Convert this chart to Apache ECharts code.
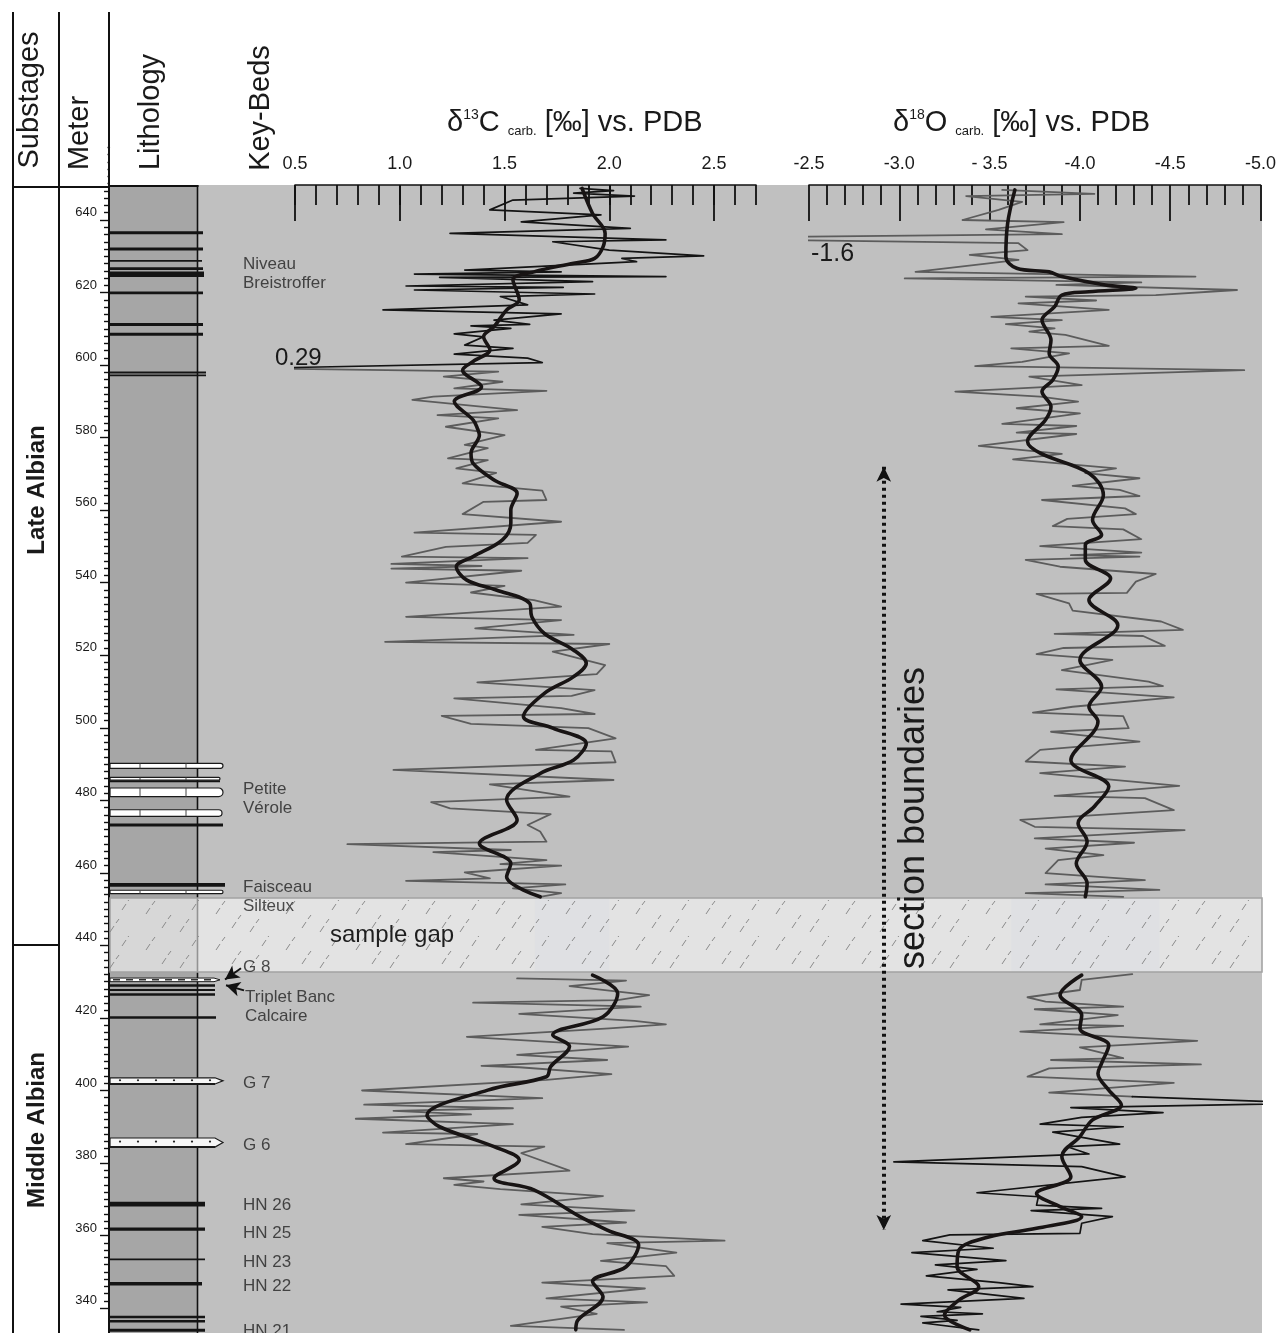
<!DOCTYPE html>
<html>
<head>
<meta charset="utf-8">
<script src="https://cdn.jsdelivr.net/npm/echarts@6.0.0/dist/echarts.min.js"></script>
<style>
html,body{margin:0;padding:0;background:#ffffff;}
#chart{width:1279px;height:1333px;}
</style>
</head>
<body>
<div id="chart"></div>
<script>
// ================= DATA =================
// meter (depth-axis) ticks
const meterMin = 340, meterMax = 660, meterStep = 20;
// tick labels of the two isotope axes
const c13TickLabels = ['0.5', '1.0', '1.5', '2.0', '2.5'];
const o18TickLabels = ['-2.5', '-3.0', '- 3.5', '-4.0', '-4.5', '-5.0'];

// delta13C raw values [value, meter] - upper (black) part
const c13RawUpper = [[1.86,648.7],[2.02,648.1],[1.83,647.4],[2.12,646.6],[1.54,645.5],[1.43,642.8],[1.96,641.4],[1.58,639.5],[2.10,637.7],[1.24,636.3],[2.27,634.5],[1.73,634.0],[2.00,631.7],[2.45,630.1],[2.06,629.4],[2.13,628.5],[1.31,626.2],[1.77,625.7],[1.07,625.1],[2.27,624.4],[1.19,624.2],[1.92,623.0],[1.03,621.8],[1.78,621.4],[1.07,620.7],[1.93,619.6],[1.48,618.9],[1.61,616.6],[0.92,615.2],[1.77,614.1],[1.45,612.4],[1.62,611.2],[1.34,610.8],[1.53,610.1],[1.26,608.6],[1.40,607.8],[1.31,605.5],[1.54,604.6],[1.26,603.0],[1.61,601.9],[1.68,600.7],[0.29,599.1]];
// delta13C raw values - middle (grey) part, down to the sample gap
const c13RawMid = [[0.29,599.1],[1.47,598.2],[1.21,596.8],[1.49,595.4],[1.26,593.6],[1.70,592.9],[1.16,591.3],[1.06,590.4],[1.40,588.5],[1.56,587.6],[1.18,586.2],[1.47,585.3],[1.22,583.0],[1.50,580.7],[1.31,578.0],[1.42,577.1],[1.23,574.3],[1.42,573.8],[1.27,571.5],[1.46,570.3],[1.30,567.4],[1.68,565.4],[1.70,562.8],[1.40,562.3],[1.30,558.9],[1.77,556.8],[1.07,553.8],[1.65,553.2],[1.61,551.0],[1.22,549.9],[1.01,547.2],[1.61,546.8],[0.96,545.2],[1.39,544.6],[0.96,543.9],[1.58,543.3],[1.03,540.0],[1.50,539.1],[1.34,537.3],[1.64,535.2],[1.77,533.4],[1.03,530.6],[1.77,529.7],[1.36,527.4],[1.83,525.6],[0.93,523.7],[2.00,523.1],[1.73,521.0],[1.98,517.3],[1.94,514.8],[1.37,512.5],[1.93,510.4],[1.82,508.8],[1.26,508.1],[1.77,505.4],[1.93,503.8],[1.20,503.3],[1.34,501.1],[1.90,499.9],[2.03,497.1],[1.65,493.9],[2.01,493.5],[2.03,490.5],[0.97,488.4],[2.02,485.6],[1.43,484.4],[1.81,481.0],[1.15,479.5],[1.24,477.8],[1.72,476.2],[1.61,473.2],[1.67,471.4],[1.70,468.6],[0.75,467.9],[1.53,466.3],[1.16,465.7],[1.70,463.5],[1.48,462.4],[1.77,462.0],[1.31,460.1],[1.43,458.5],[1.03,457.8],[1.79,456.8],[1.54,455.7],[1.77,454.4],[1.67,453.4]];
// delta13C raw values - below the sample gap
const c13RawLower = [[1.56,430.9],[2.08,430.3],[1.81,428.8],[2.19,426.3],[2.04,424.9],[1.35,424.2],[2.15,423.1],[1.57,421.1],[2.12,419.2],[2.27,418.2],[2.00,417.1],[1.32,414.8],[2.09,412.1],[1.56,409.8],[1.99,408.4],[1.39,406.8],[1.57,406.4],[2.01,404.5],[1.70,402.9],[0.82,400.0],[1.68,397.9],[0.83,396.1],[1.54,395.1],[0.97,394.4],[1.34,393.4],[0.79,392.2],[1.54,390.7],[0.92,388.4],[1.37,388.0],[1.03,385.2],[1.69,384.5],[1.58,382.7],[1.81,377.9],[1.21,375.8],[1.40,374.9],[1.26,374.0],[1.48,372.8],[1.97,370.9],[1.58,368.6],[2.12,366.9],[1.57,365.7],[2.08,363.6],[1.68,362.4],[1.92,360.4],[2.55,358.6],[1.99,357.9],[2.32,355.3],[1.96,353.0],[2.27,351.6],[2.31,348.9],[1.68,347.0],[2.17,345.4],[1.70,342.7],[2.18,341.6],[1.77,340.4],[1.94,338.4],[1.53,335.1],[2.07,334.0]];
// delta13C smoothed curve
const c13SmoothUpper = [[1.87,648.7],[1.92,641.8],[1.98,636.3],[1.97,632.6],[1.93,629.4],[1.83,628.1],[1.64,625.7],[1.54,623.5],[1.57,618.0],[1.51,615.2],[1.45,610.6],[1.40,607.8],[1.43,604.2],[1.35,601.0],[1.30,598.6],[1.39,594.0],[1.26,590.0],[1.35,584.9],[1.37,582.6],[1.38,580.7],[1.34,575.7],[1.35,572.9],[1.45,568.3],[1.56,564.6],[1.53,560.0],[1.53,556.4],[1.49,551.8],[1.35,547.2],[1.27,544.4],[1.32,540.7],[1.46,538.0],[1.62,534.3],[1.63,530.6],[1.69,526.0],[1.83,521.4],[1.89,517.8],[1.83,514.1],[1.69,509.5],[1.59,503.1],[1.73,499.9],[1.89,495.7],[1.83,491.1],[1.67,487.4],[1.51,480.1],[1.56,474.6],[1.38,468.1],[1.53,462.6],[1.51,458.9],[1.67,453.4]];
const c13SmoothLower = [[1.92,431.8],[2.04,426.8],[1.97,420.3],[1.73,415.3],[1.81,412.1],[1.72,406.6],[1.70,403.8],[1.42,400.1],[1.13,393.2],[1.19,390.0],[1.45,384.5],[1.57,380.8],[1.45,375.8],[1.64,372.6],[1.86,365.2],[1.99,361.5],[2.14,357.4],[2.08,351.4],[1.92,347.3],[1.97,343.1],[1.85,336.7],[1.84,334.0]];

// delta18O raw values - upper part (grey)
const o18RawUpper = [[-3.57,648.3],[-4.08,647.2],[-3.37,646.6],[-3.68,645.0],[-3.55,642.8],[-3.35,640.0],[-3.91,639.4],[-3.48,637.4],[-3.90,636.1],[-1.6,635.0],[-3.66,633.6],[-3.71,631.7],[-3.39,630.4],[-3.66,629.0],[-3.09,625.7],[-4.64,624.4],[-3.03,623.9],[-4.34,622.8],[-3.87,622.1],[-4.87,620.7],[-4.42,619.3],[-3.70,618.9],[-4.09,617.8],[-3.66,617.0],[-4.16,615.2],[-3.51,613.3],[-3.90,612.4],[-3.59,611.3],[-3.86,610.1],[-3.72,609.2],[-3.92,608.3],[-4.16,605.3],[-3.62,604.6],[-3.94,603.2],[-3.68,600.9],[-3.42,599.7],[-4.91,598.6],[-3.72,596.8],[-4.01,594.5],[-3.31,592.7],[-3.78,591.3],[-3.99,589.9],[-3.65,588.1],[-4.00,586.7],[-3.57,583.8],[-3.98,583.2],[-3.65,581.4],[-3.98,581.0],[-3.44,577.7],[-3.90,575.5],[-3.63,574.0],[-4.20,571.5],[-4.03,570.2],[-4.33,568.8],[-3.96,566.7],[-4.22,565.6],[-4.33,563.9],[-3.79,562.8],[-4.25,560.5],[-4.31,558.9],[-3.93,557.6],[-3.85,555.6],[-4.24,554.7],[-4.34,552.0],[-3.78,550.1],[-4.34,548.3],[-3.95,547.6],[-4.33,547.2],[-3.70,546.3],[-3.89,544.4],[-4.42,542.4],[-4.31,540.3],[-4.26,537.2],[-3.76,536.9],[-3.94,534.3],[-3.96,532.3],[-4.45,529.3],[-4.57,527.0],[-3.86,525.9],[-4.35,525.3],[-4.47,522.6],[-3.91,522.0],[-3.76,520.3],[-4.18,518.7],[-3.90,515.9],[-4.38,512.7],[-4.46,511.5],[-3.87,510.6],[-4.52,508.4],[-3.96,505.8],[-3.74,504.2],[-4.24,503.2],[-4.27,499.9],[-3.84,498.9],[-4.33,496.2],[-3.78,493.9],[-3.70,490.7],[-4.25,489.3],[-3.78,487.5],[-4.55,484.0],[-3.86,481.2],[-4.36,480.6],[-4.52,477.3],[-3.67,474.6],[-3.75,472.7],[-4.58,471.8],[-3.75,469.5],[-4.30,468.3],[-3.81,466.7],[-4.13,464.9],[-3.88,463.5],[-3.81,459.9],[-4.36,458.0],[-3.81,456.8],[-4.44,455.3],[-3.70,454.4],[-4.24,453.4]];
// delta18O raw values - below the gap (grey part)
const o18RawLowerGrey = [[-4.29,432.1],[-4.01,430.5],[-4.00,427.7],[-3.71,425.7],[-3.81,424.5],[-4.24,423.1],[-3.75,422.4],[-4.21,420.8],[-3.78,418.2],[-4.24,417.8],[-3.67,416.2],[-4.65,413.7],[-4.00,411.9],[-4.24,408.9],[-3.84,408.4],[-4.67,407.2],[-3.83,406.1],[-3.71,403.8],[-4.52,402.1],[-3.83,399.4],[-4.29,398.3]];
// delta18O raw values - lowest (black) part
const o18RawLowerBlack = [[-4.29,398.3],[-5.3,396.5],[-3.95,395.3],[-4.46,393.9],[-4.01,392.6],[-3.78,390.7],[-4.24,390.0],[-3.85,388.5],[-4.22,385.2],[-3.93,384.5],[-4.05,382.5],[-2.97,380.3],[-4.01,379.0],[-4.25,376.2],[-3.43,371.8],[-3.77,370.7],[-3.76,368.4],[-4.12,367.5],[-3.73,366.9],[-4.18,365.2],[-4.01,363.4],[-4.00,360.6],[-3.28,360.2],[-3.13,358.6],[-3.52,356.5],[-3.07,355.3],[-3.59,353.1],[-3.20,351.9],[-3.43,350.7],[-3.15,348.9],[-3.55,347.0],[-3.74,345.9],[-3.27,345.0],[-3.69,342.7],[-3.01,341.1],[-3.34,340.2],[-3.21,339.0],[-3.46,338.4],[-3.12,337.7],[-3.32,336.6],[-3.13,335.9],[-3.44,334.0]];
// delta18O smoothed curve
const o18SmoothUpper = [[-3.64,648.3],[-3.60,639.1],[-3.59,629.9],[-3.65,626.7],[-3.83,625.7],[-3.90,624.4],[-4.14,622.1],[-4.31,621.2],[-4.05,620.2],[-3.90,619.3],[-3.86,616.1],[-3.79,612.4],[-3.84,606.9],[-3.83,603.2],[-3.88,599.6],[-3.85,595.9],[-3.79,592.7],[-3.84,588.5],[-3.81,584.9],[-3.71,578.9],[-3.78,575.7],[-4.05,570.2],[-4.13,564.2],[-4.07,557.3],[-4.12,553.2],[-4.03,550.4],[-4.03,546.3],[-4.17,541.2],[-4.05,535.2],[-4.21,528.3],[-4.00,518.7],[-4.12,511.3],[-4.05,505.8],[-4.10,501.7],[-3.95,491.1],[-4.16,483.8],[-4.08,478.3],[-3.99,473.7],[-4.04,468.6],[-3.98,462.6],[-4.04,457.1],[-4.03,453.4]];
const o18SmoothLower = [[-4.01,431.8],[-3.89,426.3],[-4.01,420.8],[-4.00,417.1],[-4.16,412.5],[-4.12,407.5],[-4.10,404.7],[-4.16,400.1],[-4.23,396.0],[-4.07,391.9],[-4.00,387.3],[-3.90,381.8],[-3.95,376.2],[-3.76,371.6],[-3.89,368.0],[-4.01,365.2],[-3.76,362.0],[-3.50,359.7],[-3.33,356.0],[-3.32,351.4],[-3.44,345.9],[-3.33,342.2],[-3.25,338.1],[-3.39,334.0]];

// lithology beds: top meter, bottom meter, type, lateral extent
const bedTop    = [636.9,632.4,629.0,627.0,625.8,620.3,611.6,608.9,598.2,597.4,490.2,486.3,485.5,483.4,477.4,473.6,457.2,455.2,431.0,429.3,428.0,426.8,420.5,403.5,386.9,369.3,362.2,353.7,347.2,337.9,336.7,334.3];
const bedBottom = [636.1,631.6,628.5,626.2,624.3,619.5,610.8,608.1,597.7,596.9,488.8,485.6,485.0,481.0,475.6,472.8,456.2,454.3,430.0,428.6,427.4,426.1,419.8,401.8,384.4,368.0,361.3,353.2,346.2,337.2,336.0,333.5];
const bedType   = ['dark','dark','dark','dark','dark','dark','dark','dark','dark','dark','white','white','dark','white','white','dark','dark','white','dashed','dark','dark','dark','dark','dotted','dotted','dark','dark','dark','dark','dark','dark','dark'];
const bedExtent = [93,93,92,93,94,93,93,93,96,96,113,110,110,113,112,113,115,113,110,105,105,105,106,113,113,95,95,95,92,95,95,95];

// key-bed names and their meter positions
const keyBedNames  = ['Niveau\nBreistroffer','Petite\nVérole','Faisceau\nSilteux','G 8','Triplet Banc\nCalcaire','G 7','G 6','HN 26','HN 25','HN 23','HN 22','HN 21'];
const keyBedMeters = [625.3, 480.5, 453.3, 434.0, 423.0, 402.1, 385.0, 368.4, 360.7, 352.7, 346.1, 333.6];

// sample gap (meter range) and value bands inside it
const sampleGap = [453.07, 432.67];
const c13GapBand = [1.645, 2.0];
const o18GapBand = [-3.62, -4.44];
// section boundaries arrow (d18O value, meter from, meter to)
const sectionArrow = [-2.914, 572.0, 361.5];

// ================= LAYOUT =================
const FONT = "'Liberation Sans', Arial, Helvetica, sans-serif";
const PX_PER_M = 3.627;
const PLOT_TOP = 185, PLOT_H = 1148;
const M_TOP = 640 + (220 - PLOT_TOP) / PX_PER_M;
const M_BOT = M_TOP - PLOT_H / PX_PER_M;
const METER_GRID_TOP = PLOT_TOP - (meterMax - M_TOP) * PX_PER_M;
const METER_GRID_H = (meterMax - meterMin) * PX_PER_M;

// hatch pattern for the sample gap
const hatch = document.createElement('canvas');
hatch.width = 70; hatch.height = 36;
(function () {
  const g = hatch.getContext('2d');
  g.strokeStyle = '#8a8a8a'; g.lineWidth = 1;
  const marks = [[6, 14], [40, 32], [52, 10], [22, 28]];
  marks.forEach(([x, y]) => {
    g.beginPath(); g.moveTo(x, y); g.lineTo(x + 4, y - 6); g.stroke();
    g.beginPath(); g.moveTo(x + 6, y - 9); g.lineTo(x + 9, y - 13); g.stroke();
  });
})();

const chart = echarts.init(document.getElementById('chart'), null, { renderer: 'canvas' });

function lineSeries(name, xi, yi, data, color, width, z, smooth) {
  return {
    name, type: 'line', xAxisIndex: xi, yAxisIndex: yi, data,
    symbol: 'none', showSymbol: false, smooth: smooth || false, clip: true,
    lineStyle: { color, width, join: 'round', cap: 'round' }, z, silent: true, animation: false
  };
}

function bedRender(params, api) {
  const i = params.dataIndex;
  const type = bedType[i];
  const p0 = api.coord([0, api.value(0)]);
  const p1 = api.coord([api.value(2), api.value(1)]);
  const x = p0[0], y = p0[1];
  const w = p1[0] - p0[0];
  const h = Math.max(p1[1] - p0[1], 1.6);
  if (type === 'dark') {
    return { type: 'rect', shape: { x, y, width: w, height: h }, style: { fill: '#141414' } };
  }
  if (type === 'white') {
    const r = h / 2;
    return { type: 'group', children: [
      { type: 'rect', shape: { x, y, width: w, height: h, r: [0, r, r, 0] }, style: { fill: '#ffffff', stroke: '#1a1a1a', lineWidth: 1.2 } },
      { type: 'line', shape: { x1: x + 30, y1: y, x2: x + 30, y2: y + h }, style: { stroke: '#444', lineWidth: 1 } },
      { type: 'line', shape: { x1: x + 76, y1: y, x2: x + 76, y2: y + h }, style: { stroke: '#444', lineWidth: 1 } }
    ] };
  }
  if (type === 'dotted') {
    const children = [
      { type: 'polygon', shape: { points: [[x, y], [x + w - 8, y], [x + w, y + h / 2], [x + w - 8, y + h], [x, y + h]] }, style: { fill: '#f6f6f6', stroke: '#1a1a1a', lineWidth: 1.2 } },
      { type: 'line', shape: { x1: x, y1: y + h, x2: x + w - 8, y2: y + h }, style: { stroke: '#1a1a1a', lineWidth: 2 } }
    ];
    for (let k = 10; k < w - 10; k += 18) {
      children.push({ type: 'circle', shape: { cx: x + k, cy: y + h * 0.4, r: 1.1 }, style: { fill: '#222' } });
    }
    return { type: 'group', children };
  }
  // dashed
  return { type: 'group', children: [
    { type: 'polygon', shape: { points: [[x, y], [x + w - 6, y], [x + w, y + h / 2], [x + w - 6, y + h], [x, y + h]] }, style: { fill: '#ffffff', stroke: '#1a1a1a', lineWidth: 1 } },
    { type: 'line', shape: { x1: x + 3, y1: y + h / 2, x2: x + w - 8, y2: y + h / 2 }, style: { stroke: '#333', lineWidth: 1.5, lineDash: [7, 6] } }
  ] };
}

const txt = (text, x, y, size, extra) => Object.assign({ type: 'text', x, y, z: 60,
  style: Object.assign({ text, fontSize: size, fontFamily: FONT, fill: '#1a1a1a', align: 'center', verticalAlign: 'middle', textAlign: 'center', textVerticalAlign: 'middle' }, (extra && extra.style) || {}) },
  extra && extra.rotation !== undefined ? { rotation: extra.rotation } : {});

const richTitle = (iso, elem, x) => ({ type: 'text', x, y: 123, z: 60, style: {
  text: '{m|δ}{sup|' + iso + '}{m|' + elem + ' }{sub|carb.}{m| [‰] vs. PDB}', align: 'left', verticalAlign: 'middle', textAlign: 'left', textVerticalAlign: 'middle',
  rich: { m: { fontSize: 29, fontFamily: FONT, fill: '#1a1a1a', color: '#1a1a1a', lineHeight: 30 },
          sup: { fontSize: 14, fontFamily: FONT, fill: '#1a1a1a', color: '#1a1a1a', lineHeight: 30, verticalAlign: 'top' },
          sub: { fontSize: 13, fontFamily: FONT, fill: '#1a1a1a', color: '#1a1a1a', lineHeight: 30, verticalAlign: 'bottom' } } } });

const option = {
  animation: false,
  backgroundColor: '#ffffff',
  textStyle: { fontFamily: FONT },
  grid: [
    { left: 109, top: METER_GRID_TOP, width: 1, height: METER_GRID_H },              // 0 meter
    { left: 110, top: PLOT_TOP, width: 160, height: PLOT_H },                          // 1 lithology
    { left: 110, top: PLOT_TOP, width: 1152, height: PLOT_H, show: true, backgroundColor: '#c0c0c0', borderWidth: 0 }, // 2 background
    { left: 295, top: PLOT_TOP, width: 461, height: PLOT_H },                          // 3 d13C
    { left: 809, top: PLOT_TOP, width: 453, height: PLOT_H }                           // 4 d18O
  ],
  xAxis: [
    { gridIndex: 0, type: 'value', min: 0, max: 1, show: false },
    { gridIndex: 1, type: 'value', min: 0, max: 160, show: false },
    { gridIndex: 2, type: 'value', min: 0, max: 1152, show: false },
    { gridIndex: 3, type: 'value', position: 'top', min: 0.5, max: 2.7, interval: 0.1,
      axisLine: { show: true, lineStyle: { color: '#111', width: 1.6 } },
      axisTick: { show: true, inside: true, length: 20, lineStyle: { color: '#111', width: 1.8 } },
      axisLabel: { show: false }, splitLine: { show: false } },
    { gridIndex: 3, type: 'value', position: 'top', min: 0.5, max: 2.7, interval: 0.5,
      axisLine: { show: false },
      axisTick: { show: true, inside: true, length: 36, customValues: [0.5, 1.0, 1.5, 2.0, 2.5], lineStyle: { color: '#111', width: 1.8 } },
      axisLabel: { show: true, margin: 12, fontSize: 18, color: '#1a1a1a', fontFamily: FONT,
        customValues: [0.5, 1.0, 1.5, 2.0, 2.5],
        formatter: v => { const k = Math.round((v - 0.5) / 0.5); return Math.abs(v - (0.5 + k * 0.5)) < 1e-6 && c13TickLabels[k] ? c13TickLabels[k] : ''; } },
      splitLine: { show: false } },
    { gridIndex: 4, type: 'value', position: 'top', min: -5, max: -2.5, interval: 0.5, inverse: true,
      axisLine: { show: true, lineStyle: { color: '#111', width: 1.6 } },
      axisTick: { show: true, inside: true, length: 36, lineStyle: { color: '#111', width: 1.8 } },
      minorTick: { show: true, splitNumber: 5, length: 20, lineStyle: { color: '#111', width: 1.8 } },
      axisLabel: { show: true, margin: 12, fontSize: 18, color: '#1a1a1a', fontFamily: FONT,
        formatter: v => o18TickLabels[Math.round((-2.5 - v) / 0.5)] || '' },
      splitLine: { show: false }, minorSplitLine: { show: false } }
  ],
  yAxis: [
    { gridIndex: 0, type: 'value', position: 'left', min: meterMin, max: meterMax, interval: meterStep,
      axisLine: { show: true, lineStyle: { color: '#111', width: 2 } },
      axisTick: { show: true, inside: false, length: 9, lineStyle: { color: '#111', width: 1.4 } },
      minorTick: { show: true, splitNumber: 10, length: 5, lineStyle: { color: '#111', width: 1.4 } },
      axisLabel: { show: true, margin: 12, fontSize: 13, color: '#1a1a1a', fontFamily: FONT, verticalAlign: 'bottom', padding: [0, 0, 1, 0],
        formatter: v => (v === meterMax) ? '' : String(v) },
      splitLine: { show: false }, minorSplitLine: { show: false } },
    { gridIndex: 1, type: 'value', min: M_BOT, max: M_TOP, show: false },
    { gridIndex: 2, type: 'value', min: M_BOT, max: M_TOP, show: false },
    { gridIndex: 3, type: 'value', min: M_BOT, max: M_TOP, show: false },
    { gridIndex: 4, type: 'value', min: M_BOT, max: M_TOP, show: false }
  ],
  series: [
    // lithology column
    { type: 'custom', xAxisIndex: 1, yAxisIndex: 1, z: 2, silent: true, data: [[M_TOP, M_BOT]],
      renderItem: (params, api) => {
        const p0 = api.coord([0, api.value(0)]);
        const p1 = api.coord([87.5, api.value(1)]);
        return { type: 'group', children: [
          { type: 'rect', shape: { x: p0[0], y: p0[1], width: p1[0] - p0[0], height: p1[1] - p0[1] }, style: { fill: '#a6a6a6' } },
          { type: 'line', shape: { x1: p1[0], y1: p0[1], x2: p1[0], y2: p1[1] }, style: { stroke: '#111', lineWidth: 1.6 } },
          { type: 'line', shape: { x1: p0[0] - 1, y1: p0[1], x2: p0[0] - 1, y2: p1[1] }, style: { stroke: '#111', lineWidth: 2 } },
          { type: 'line', shape: { x1: p0[0] - 1, y1: p0[1] + 1, x2: p1[0] + 1, y2: p0[1] + 1 }, style: { stroke: '#111', lineWidth: 2 } }
        ] };
      } },
    // lithology beds
    { type: 'custom', xAxisIndex: 1, yAxisIndex: 1, z: 2.5, silent: true,
      data: bedTop.map((t, i) => [t, bedBottom[i], bedExtent[i]]),
      renderItem: bedRender },
    // sample gap
    { type: 'custom', xAxisIndex: 2, yAxisIndex: 2, z: 3, silent: true, data: [[sampleGap[0], sampleGap[1]]],
      renderItem: (params, api) => {
        const p0 = api.coord([0, api.value(0)]);
        const p1 = api.coord([1152, api.value(1)]);
        const shape = { x: p0[0], y: p0[1], width: p1[0] - p0[0], height: p1[1] - p0[1] };
        const mid = (api.value(0) + api.value(1)) / 2;
        const pt = api.coord([220, mid]);
        return { type: 'group', children: [
          { type: 'rect', shape, style: { fill: 'rgba(255,255,255,0.55)', stroke: '#a3a3a3', lineWidth: 1.6 } },
          { type: 'rect', shape, style: { fill: { image: hatch, repeat: 'repeat' } } },
          { type: 'text', x: pt[0], y: pt[1], style: { text: 'sample gap', fontSize: 24, fontFamily: FONT, fill: '#1e1e1e', align: 'left', verticalAlign: 'middle', textAlign: 'left', textVerticalAlign: 'middle' } }
        ] };
      } },
    // key-bed labels
    { type: 'scatter', xAxisIndex: 1, yAxisIndex: 1, z: 6, silent: true, symbolSize: 0.01,
      data: keyBedMeters.map((m, i) => ({ value: [i === 4 ? 135 : 133, m], name: keyBedNames[i] })),
      label: { show: true, position: 'right', distance: 0, formatter: p => p.name, fontSize: 17, lineHeight: 19, color: '#222', fontFamily: FONT, align: 'left' },
      markLine: { silent: true, symbol: ['none', 'arrow'], symbolSize: [11, 14], animation: false,
        lineStyle: { color: '#111', width: 2, type: 'solid' }, label: { show: false },
        data: [
          [{ coord: [131, keyBedMeters[3] - 0.3] }, { coord: [115, 430.6] }],
          [{ coord: [134, 427.6] }, { coord: [116, 429.0] }]
        ] } },
    // d13C
    lineSeries('c13RawMid', 4, 3, c13RawMid, '#5c5c5c', 1.8, 4),
    lineSeries('c13RawLower', 4, 3, c13RawLower, '#5c5c5c', 1.8, 4),
    lineSeries('c13RawUpper', 4, 3, c13RawUpper, '#141414', 1.7, 5),
    Object.assign(lineSeries('c13SmoothUpper', 4, 3, c13SmoothUpper, '#181414', 3.6, 6, 0.35), {
      markArea: { silent: true, itemStyle: { color: 'rgba(165,175,200,0.3)' },
        data: [[{ coord: [c13GapBand[0], sampleGap[0]] }, { coord: [c13GapBand[1], sampleGap[1]] }]] } }),
    lineSeries('c13SmoothLower', 4, 3, c13SmoothLower, '#181414', 3.6, 6, 0.35),
    // d18O
    Object.assign(lineSeries('o18RawUpper', 5, 4, o18RawUpper, '#5c5c5c', 1.8, 4), {
      markLine: { silent: true, symbol: ['arrow', 'arrow'], symbolSize: [11, 15], animation: false,
        lineStyle: { color: '#111', width: 4, type: [3, 4] }, label: { show: false },
        data: [[{ coord: [sectionArrow[0], sectionArrow[1]] }, { coord: [sectionArrow[0], sectionArrow[2]] }]] } }),
    lineSeries('o18RawLowerGrey', 5, 4, o18RawLowerGrey, '#5c5c5c', 1.8, 4),
    lineSeries('o18RawLowerBlack', 5, 4, o18RawLowerBlack, '#141414', 1.7, 5),
    Object.assign(lineSeries('o18SmoothUpper', 5, 4, o18SmoothUpper, '#181414', 3.6, 6, 0.35), {
      markArea: { silent: true, itemStyle: { color: 'rgba(165,175,200,0.3)' },
        data: [[{ coord: [o18GapBand[0], sampleGap[0]] }, { coord: [o18GapBand[1], sampleGap[1]] }]] } }),
    lineSeries('o18SmoothLower', 5, 4, o18SmoothLower, '#181414', 3.6, 6, 0.35)
  ],
  graphic: [
    // cover for the meter axis part inside the header
    { type: 'rect', shape: { x: 60, y: 0, width: 47.5, height: 186 }, style: { fill: '#ffffff' }, z: 50 },
    // header frame lines
    { type: 'line', shape: { x1: 13, y1: 12, x2: 13, y2: 1333 }, style: { stroke: '#111', lineWidth: 2 }, z: 60 },
    { type: 'line', shape: { x1: 59, y1: 12, x2: 59, y2: 1333 }, style: { stroke: '#111', lineWidth: 2 }, z: 60 },
    { type: 'line', shape: { x1: 109, y1: 12, x2: 109, y2: 188 }, style: { stroke: '#111', lineWidth: 2 }, z: 60 },
    { type: 'line', shape: { x1: 13, y1: 187, x2: 110, y2: 187 }, style: { stroke: '#111', lineWidth: 2 }, z: 60 },
    { type: 'line', shape: { x1: 13, y1: 945, x2: 59, y2: 945 }, style: { stroke: '#111', lineWidth: 2 }, z: 60 },
    // header texts
    txt('Substages', 30, 100, 29, { rotation: Math.PI / 2 }),
    txt('Meter', 80, 133, 29, { rotation: Math.PI / 2 }),
    txt('Lithology', 151, 112, 29, { rotation: Math.PI / 2 }),
    txt('Key-Beds', 261, 108, 29, { rotation: Math.PI / 2 }),
    // substages
    txt('Late Albian', 37, 490, 24, { rotation: Math.PI / 2, style: { fontWeight: 'bold' } }),
    txt('Middle Albian', 37, 1130, 24, { rotation: Math.PI / 2, style: { fontWeight: 'bold' } }),
    // axis titles
    richTitle('13', 'C', 447),
    richTitle('18', 'O', 893),
    // off-scale value annotations
    txt('0.29', 275, 358, 24, { style: { align: 'left', textAlign: 'left' } }),
    txt('-1.6', 811, 254, 25, { style: { align: 'left', textAlign: 'left' } }),
    // section boundaries label
    txt('section boundaries', 914, 818, 36, { rotation: Math.PI / 2 })
  ]
};

chart.setOption(option);
</script>
</body>
</html>
